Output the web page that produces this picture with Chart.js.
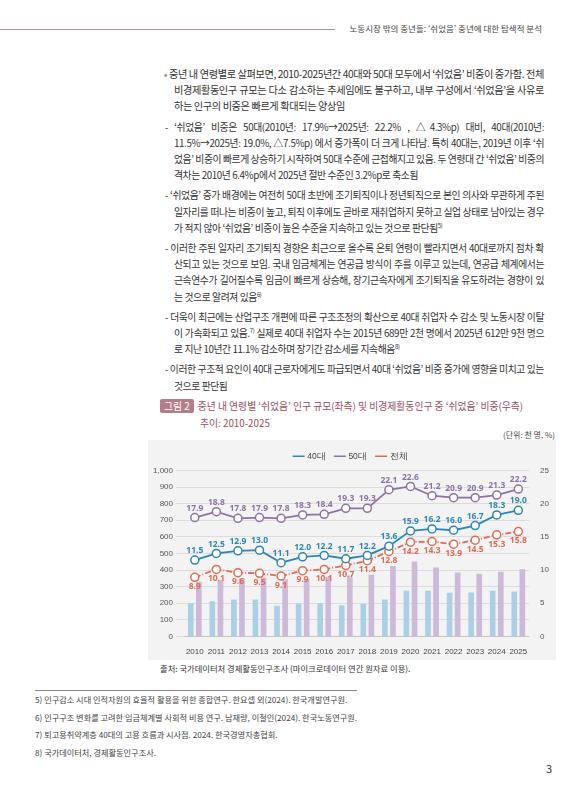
<!DOCTYPE html>
<html><head><meta charset="utf-8">
<script src="https://cdn.jsdelivr.net/npm/chart.js@4"></script>
<style>
body{margin:0;width:585px;height:800px;background:#fff;font-family:"Noto Sans CJK KR","Noto Sans",sans-serif;color:#333;position:relative;overflow:hidden}
.hdr{position:absolute;top:29px;left:0;width:335px;border-top:1.5px solid #b58a93}
.hdrt{position:absolute;top:22px;right:43px;font-size:8.5px;color:#444}
.body{position:absolute;left:162px;top:66px;width:382px;font-size:10.2px;line-height:16.2px;letter-spacing:-0.4px}
.b{padding-left:12px;text-indent:-10px;margin-bottom:4px;text-align:justify}
.d{padding-left:12px;text-indent:-9px;margin-bottom:4px;font-size:9.8px;text-align:justify}
sup{font-size:6px;line-height:0}
.ttl{position:absolute;left:160px;top:398px;font-size:9.8px;color:#9b4d62;line-height:17px}
.tag{background:#b57d8a;color:#fff;padding:0 4px;margin-right:4px;border-radius:2px}
.unit{position:absolute;right:30px;top:429px;font-size:8px;color:#444}
.wrap{position:absolute;left:148px;top:440px;width:408px;height:220px;background:#f3f3f3}
.src{position:absolute;left:160px;top:662px;font-size:8.3px;color:#333}
.fn{position:absolute;left:35px;top:690px;font-size:8.2px;line-height:17.5px;color:#444;border-top:1px solid #888;padding-top:0}
.pg{position:absolute;left:546px;top:760px;font-size:11px}
</style></head><body>
<div class="hdr"></div>
<div class="hdrt">노동시장 밖의 중년들: ‘쉬었음’ 중년에 대한 탐색적 분석</div>
<div class="body">
<div class="b"><span style="color:#b57d8a">•</span> 중년 내 연령별로 살펴보면, 2010-2025년간 40대와 50대 모두에서 ‘쉬었음’ 비중이 증가함. 전체 비경제활동인구 규모는 다소 감소하는 추세임에도 불구하고, 내부 구성에서 ‘쉬었음’을 사유로 하는 인구의 비중은 빠르게 확대되는 양상임</div>
<div class="d">- ‘쉬었음’ 비중은 50대(2010년: 17.9%→2025년: 22.2% , △4.3%p) 대비, 40대(2010년: 11.5%→2025년: 19.0%, △7.5%p) 에서 증가폭이 더 크게 나타남. 특히 40대는, 2019년 이후 ‘쉬었음’ 비중이 빠르게 상승하기 시작하여 50대 수준에 근접해지고 있음. 두 연령대 간 ‘쉬었음’ 비중의 격차는 2010년 6.4%p에서 2025년 절반 수준인 3.2%p로 축소됨</div>
<div class="d">- ‘쉬었음’ 증가 배경에는 여전히 50대 초반에 조기퇴직이나 정년퇴직으로 본인 의사와 무관하게 주된 일자리를 떠나는 비중이 높고, 퇴직 이후에도 곧바로 재취업하지 못하고 실업 상태로 남아있는 경우가 적지 않아 ‘쉬었음’ 비중이 높은 수준을 지속하고 있는 것으로 판단됨<sup>5)</sup></div>
<div class="d">- 이러한 주된 일자리 조기퇴직 경향은 최근으로 올수록 은퇴 연령이 빨라지면서 40대로까지 점차 확산되고 있는 것으로 보임. 국내 임금체계는 연공급 방식이 주를 이루고 있는데, 연공급 체계에서는 근속연수가 길어질수록 임금이 빠르게 상승해, 장기근속자에게 조기퇴직을 유도하려는 경향이 있는 것으로 알려져 있음<sup>6)</sup></div>
<div class="d">- 더욱이 최근에는 산업구조 개편에 따른 구조조정의 확산으로 40대 취업자 수 감소 및 노동시장 이탈이 가속화되고 있음.<sup>7)</sup> 실제로 40대 취업자 수는 2015년 689만 2천 명에서 2025년 612만 9천 명으로 지난 10년간 11.1% 감소하며 장기간 감소세를 지속해옴<sup>8)</sup></div>
<div class="d">- 이러한 구조적 요인이 40대 근로자에게도 파급되면서 40대 ‘쉬었음’ 비중 증가에 영향을 미치고 있는 것으로 판단됨</div>
</div>
<div class="ttl"><span class="tag">그림 2</span>중년 내 연령별 ‘쉬었음’ 인구 규모(좌측) 및 비경제활동인구 중 ‘쉬었음’ 비중(우측)<br><span style="padding-left:40px">추이: 2010-2025</span></div>
<div class="unit">(단위: 천 명, %)</div>
<div class="wrap"><canvas id="c"></canvas></div>
<div class="src">출처: 국가데이터처 경제활동인구조사 (마이크로데이터 연간 원자료 이용).</div>
<div class="fn">5) 인구감소 시대 인적자원의 효율적 활용을 위한 종합연구. 한요셉 외(2024). 한국개발연구원.<br>6) 인구구조 변화를 고려한 임금체계별 사회적 비용 연구. 남재량, 이철인(2024). 한국노동연구원.<br>7) 퇴고용취약계층 40대의 고용 흐름과 시사점. 2024. 한국경영자총협회.<br>8) 국가데이터처, 경제활동인구조사.</div>
<div class="pg">3</div>
<script>
const years = ['2010','2011','2012','2013','2014','2015','2016','2017','2018','2019','2020','2021','2022','2023','2024','2025'];
const bar40 = [200,212,222,223,185,198,200,188,197,222,275,275,263,265,275,270];
const bar50 = [330,338,350,355,345,345,360,360,372,425,452,415,385,377,390,405];
const rate40 = [11.5,12.5,12.9,13.0,11.1,12.0,12.2,11.7,12.2,13.6,15.9,16.2,16.0,16.7,18.3,19.0];
const rate50 = [17.9,18.8,17.8,17.9,17.8,18.3,18.4,19.3,19.3,22.1,22.6,21.2,20.9,20.9,21.3,22.2];
const rateAll = [8.9,10.1,9.6,9.5,9.1,9.9,10.1,10.7,11.4,12.8,14.2,14.3,13.9,14.5,15.3,15.8];

const C40 = '#2c86b8', C50 = '#8c72a8', CALL = '#e3694f';

const labelPlugin = {
  id: 'labels',
  afterDatasetsDraw(chart) {
    const ctx = chart.ctx;
    ctx.save();
    ctx.font = 'bold 8.5px "Noto Sans", sans-serif';
    ctx.textAlign = 'center';
    chart.data.datasets.forEach((ds, i) => {
      if (ds.type !== 'line') return;
      const meta = chart.getDatasetMeta(i);
      ctx.fillStyle = ds.borderColor;
      meta.data.forEach((pt, j) => {
        const below = ds.label === '전체';
        ctx.textBaseline = below ? 'top' : 'bottom';
        ctx.fillText(ds.data[j].toFixed(1), pt.x, below ? pt.y + 5 : pt.y - 5);
      });
    });
    ctx.restore();
  }
};

const lineDs = (label, data, color, dash) => ({
  type: 'line', label, data, yAxisID: 'y1', borderColor: color, backgroundColor: '#fff',
  borderWidth: 1.8, borderDash: dash, pointRadius: 4, pointBorderWidth: 1.5,
  pointBackgroundColor: '#fff', pointBorderColor: color, order: 0
});

new Chart(document.getElementById('c'), {
  data: {
    labels: years,
    datasets: [
      lineDs('40대', rate40, C40, []),
      lineDs('50대', rate50, C50, []),
      lineDs('전체', rateAll, CALL, [6, 2, 1, 2]),
      { type: 'bar', label: 'b40', data: bar40, yAxisID: 'y', backgroundColor: '#a9d0e6', order: 1, barPercentage: 0.7, categoryPercentage: 0.75 },
      { type: 'bar', label: 'b50', data: bar50, yAxisID: 'y', backgroundColor: '#cdb9d8', order: 1, barPercentage: 0.7, categoryPercentage: 0.75 }
    ]
  },
  options: {
    responsive: true, maintainAspectRatio: false, animation: false,
    layout: { padding: { left: 2, right: 4, top: 2, bottom: 0 } },
    plugins: {
      legend: { labels: { filter: it => !it.text.startsWith('b'), usePointStyle: true, pointStyle: 'line', boxWidth: 22, font: { size: 8.5 }, color: '#444', padding: 10 } },
      tooltip: { enabled: false }
    },
    scales: {
      x: { grid: { display: false }, ticks: { font: { size: 8 }, color: '#444', maxRotation: 0, autoSkip: false } },
      y: { min: 0, max: 1000, ticks: { stepSize: 100, font: { size: 8 }, color: '#555', callback: v => v.toLocaleString('en-US') }, grid: { color: '#dcdcdc', borderDash: [2,2] }, border: { display: false } },
      y1: { position: 'right', min: 0, max: 25, ticks: { stepSize: 5, font: { size: 8 }, color: '#555' }, grid: { display: false }, border: { display: false } }
    }
  },
  plugins: [labelPlugin]
});
</script>
</body></html>
